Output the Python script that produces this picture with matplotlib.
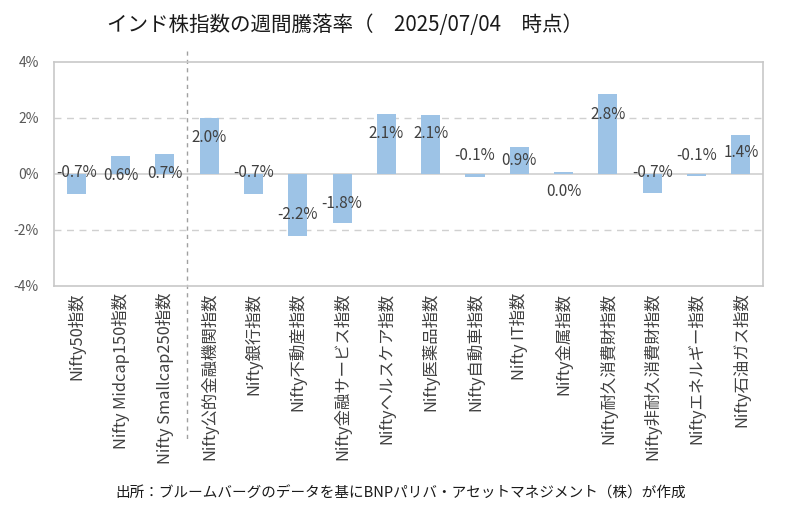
import matplotlib
matplotlib.use('Agg')
import matplotlib.pyplot as plt
import matplotlib.transforms as mtransforms
import numpy as np

plt.rcParams['font.family'] = ['Noto Sans CJK JP', 'DejaVu Sans']

categories = ['Nifty50指数', 'Nifty Midcap150指数', 'Nifty Smallcap250指数',
              'Nifty公的金融機関指数', 'Nifty銀行指数', 'Nifty不動産指数',
              'Nifty金融サービス指数', 'Niftyヘルスケア指数', 'Nifty医薬品指数',
              'Nifty自動車指数', 'Nifty IT指数', 'Nifty金属指数',
              'Nifty耐久消費財指数', 'Nifty非耐久消費財指数', 'Niftyエネルギー指数',
              'Nifty石油ガス指数']
# weekly change in %
returns = [-0.72, 0.63, 0.71, 1.98, -0.72, -2.21, -1.77, 2.14, 2.09,
           -0.12, 0.94, 0.045, 2.84, -0.69, -0.09, 1.39]
yticks = [-4, -2, 0, 2, 4]

title = 'インド株指数の週間騰落率（　2025/07/04　時点）'
source = '出所：ブルームバーグのデータを基にBNPパリバ・アセットマネジメント（株）が作成'

# where each data label sits (value units), as placed in the original
label_y = [0.04, -0.06, 0.0, 1.28, 0.06, -1.46, -1.06, 1.44, 1.44,
           0.65, 0.48, -0.63, 2.12, 0.06, 0.66, 0.74]

fig = plt.figure(figsize=(7.85, 5.13), dpi=100)
ax = fig.add_axes([0.0688, 0.4431, 0.9032, 0.4366])

x = np.arange(len(categories))
ax.bar(x, returns, width=0.43, color='#9DC3E6', zorder=3)

ax.set_xlim(-0.5, len(categories) - 0.5)
ax.set_ylim(-4, 4)
ax.set_yticks(yticks)
ax.set_yticklabels([f'{t}%' for t in yticks], color='#595959', fontsize=10)
ax.set_xticks(x)
ax.set_xticklabels(categories, rotation=90, color='#404040', fontsize=11.8,
                   va='top', ha='center')
ax.tick_params(length=0)
ax.tick_params(axis='y', pad=11)
ax.tick_params(axis='x', pad=5)

for g in [-2, 2]:
    ax.axhline(g, color='#D0D0D0', lw=1, ls=(0, (5, 4)), zorder=1)
ax.axhline(0, color='#D0D0D0', lw=1.2, zorder=2)

for s in ax.spines.values():
    s.set_color('#C8C8C8')
    s.set_linewidth(1.2)

for xi, v, ly in zip(x, returns, label_y):
    ax.text(xi, ly, f'{v:.1f}%', ha='center', va='center', fontsize=11,
            color='#404040', zorder=4)

# separator between broad market and sector indices
trans = mtransforms.blended_transform_factory(ax.transData, ax.transAxes)
ax.plot([2.5, 2.5], [1.05, -0.69], transform=trans, clip_on=False,
        color='#A0A0A0', lw=1, ls=(0, (3, 3)))

fig.text(0.136, 0.951, title, fontsize=14.8, color='#1A1A1A', ha='left', va='center')
fig.text(0.51, 0.039, source, fontsize=10.5, color='#1A1A1A', ha='center', va='center')

fig.savefig('out.png', dpi=100)
